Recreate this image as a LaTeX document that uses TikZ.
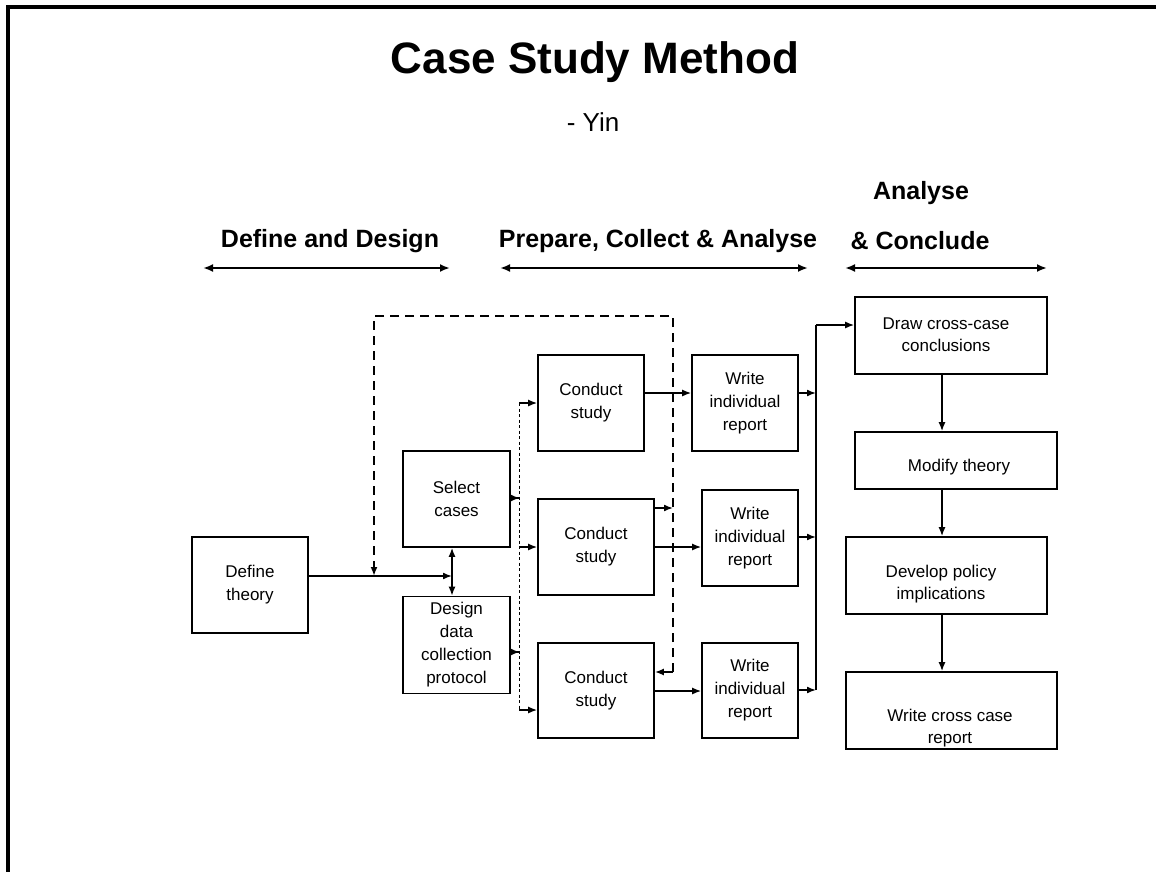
\documentclass[tikz,border=0pt]{standalone}
\usepackage{fontspec}
\setmainfont{Liberation Sans}
\usetikzlibrary{arrows.meta}
\begin{document}
\begin{tikzpicture}[x=1pt,y=-1pt,
  >={Latex[length=9pt,width=7pt]},
  box/.style={draw, line width=1.6pt, inner sep=0pt, align=center,
    font=\fontsize{17}{23}\selectfont},
  boxtext/.style={inner sep=0pt, align=center, font=\fontsize{17}{22}\selectfont},
  phase/.style={font=\fontsize{25}{28}\selectfont\bfseries, inner sep=0pt},
  span/.style={{Latex[length=10pt,width=8pt]}-{Latex[length=10pt,width=8pt]}, line width=2.2pt},
  flow/.style={->, line width=1.6pt},
  loop/.style={line width=2pt, dash pattern=on 9pt off 6pt},
  bus/.style={line width=1pt, dash pattern=on 3pt off 2.5pt},
  backtip/.style={{Latex[length=9pt,width=7pt,reversed]}-, line width=1.6pt}
]
\useasboundingbox (0,0) rectangle (1156,872);
\fill[white] (0,0) rectangle (1156,872);
% frame along the top and left edges
\draw[line width=4pt] (8,872) -- (8,7) -- (1156,7);

% headings
\node[font=\fontsize{44}{50}\selectfont\bfseries, inner sep=0pt] (title) at (595,62) {Case Study Method};
\node[font=\fontsize{26}{30}\selectfont, inner sep=0pt] (author) at (593,122) {- Yin};

\node[phase] (ph1) at (330,241) {Define and Design};
\node[phase] (ph2) at (658,241) {Prepare, Collect \& Analyse};
\node[phase] (ph3a) at (921,193) {Analyse};
\node[phase] (ph3) at (920,241) {\& Conclude};

\coordinate (s1a) at (203,268); \coordinate (s1b) at (450,268);
\coordinate (s2a) at (500,268); \coordinate (s2b) at (808,268);
\coordinate (s3a) at (845,268); \coordinate (s3b) at (1047,268);
\draw[span] (s1a) -- (s1b);
\draw[span] (s2a) -- (s2b);
\draw[span] (s3a) -- (s3b);

% define and design
\node[box, minimum width=116, minimum height=96] (theory) at (250,585) {Define\\theory};
\node[box, minimum width=107, minimum height=96] (select) at (456.5,499) {Select\\cases};
\node[box, minimum width=107, minimum height=97] (design) at (456.5,645) {Design\\data\\collection\\protocol};

% case studies
\node[box, minimum width=106, minimum height=96] (cs1) at (591,403) {Conduct\\study};
\node[box, minimum width=116, minimum height=96] (cs2) at (596,547) {Conduct\\study};
\node[box, minimum width=116, minimum height=95] (cs3) at (596,690.5) {Conduct\\study};

\node[box, minimum width=106, minimum height=96] (wr1) at (745,403) {Write\\individual\\report};
\node[box, minimum width=96, minimum height=96] (wr2) at (750,538) {Write\\individual\\report};
\node[box, minimum width=96, minimum height=95] (wr3) at (750,690.5) {Write\\individual\\report};

% cross-case column
\node[box, minimum width=192, minimum height=77] (dcc) at (951,335.5) {};
\node[boxtext] (dcct) at (946,335) {Draw cross-case\\conclusions};
\node[box, minimum width=202, minimum height=57] (mod) at (956,460.5) {};
\node[boxtext] (modt) at (959,467) {Modify theory};
\node[box, minimum width=201, minimum height=77] (dev) at (946.5,575.5) {};
\node[boxtext] (devt) at (941,584) {Develop policy\\implications};
\node[box, minimum width=211, minimum height=77] (wcc) at (951.5,710.5) {};
\node[boxtext] (wcct) at (950,728) {Write cross case\\report};

% theory feeds the design step
\coordinate (join) at (374,576);
\coordinate (dx) at (452,576);
\draw[flow] (theory.east |- join) -- (dx);
\draw[<->, line width=1.6pt] (select.south -| dx) -- (design.north -| dx);

% dashed feedback loop
\coordinate (lt) at (374,316);
\coordinate (rt) at (673,316);
\coordinate (rb) at (673,672);
\coordinate (rm) at (673,508);
\draw[loop, ->] (rb) -- (rt) -- (lt) -- (join);
\draw[loop, ->] (rb) -- (cs3.east |- rb);
\draw[flow] (cs2.east |- rm) -- (rm);

% dotted distribution bus to the case studies
\coordinate (bt) at (519,403);
\coordinate (bm) at (519,547);
\coordinate (bb) at (519,710);
\coordinate (bs) at (519,498);
\coordinate (bd) at (519,652);
\draw[bus] (bt) -- (bb);
\draw[flow] (bt) -- (cs1.west |- bt);
\draw[flow] (bm) -- (cs2.west |- bm);
\draw[flow] (bb) -- (cs3.west |- bb);
\draw[backtip] (select.east |- bs) -- (bs);
\draw[backtip] (design.east |- bd) -- (bd);

% studies to reports
\coordinate (c1) at (0,393);
\coordinate (c2) at (0,547);
\coordinate (c3) at (0,691);
\draw[flow] (cs1.east |- c1) -- (wr1.west |- c1);
\draw[flow] (cs2.east |- c2) -- (wr2.west |- c2);
\draw[flow] (cs3.east |- c3) -- (wr3.west |- c3);

% reports collected into the cross-case conclusions
\coordinate (kt) at (816,325);
\coordinate (k1) at (816,393);
\coordinate (k2) at (816,537);
\coordinate (k3) at (816,690);
\draw[line width=1.6pt] (k3) -- (kt);
\draw[flow] (kt) -- (dcc.west |- kt);
\draw[flow] (wr1.east |- k1) -- (k1);
\draw[flow] (wr2.east |- k2) -- (k2);
\draw[flow] (wr3.east |- k3) -- (k3);

% cross-case sequence
\coordinate (ax) at (942,0);
\draw[flow] (ax |- dcc.south) -- (ax |- mod.north);
\draw[flow] (ax |- mod.south) -- (ax |- dev.north);
\draw[flow] (ax |- dev.south) -- (ax |- wcc.north);
\end{tikzpicture}
\end{document}
